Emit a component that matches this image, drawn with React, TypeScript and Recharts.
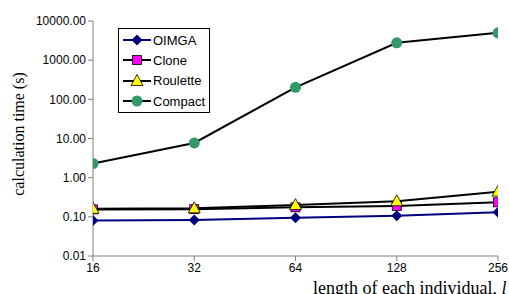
import { LineChart, Line, XAxis, YAxis } from "recharts";

const lengths = [16, 32, 64, 128, 256];
const oimga = [0.081, 0.083, 0.095, 0.107, 0.13];
const clone = [0.155, 0.157, 0.175, 0.19, 0.235];
const roulette = [0.16, 0.165, 0.2, 0.25, 0.44];
const compact = [2.3, 7.7, 203, 2770, 5000];
const yTicks = [0.01, 0.1, 1, 10, 100, 1000, 10000];

const data = lengths.map((l, i) => ({
  l,
  OIMGA: oimga[i],
  Clone: clone[i],
  Roulette: roulette[i],
  Compact: compact[i],
}));

const sans = "'Liberation Sans', Arial, sans-serif";
const serif = "'Liberation Serif', 'Times New Roman', serif";

const Diamond = ({ cx, cy }: any) => (
  <path d={`M${cx},${cy - 5.5}L${cx + 5.5},${cy}L${cx},${cy + 5.5}L${cx - 5.5},${cy}Z`} fill="#000080" />
);
const Square = ({ cx, cy }: any) => (
  <rect x={cx - 4.5} y={cy - 4.5} width={9} height={9} fill="#ff00ff" stroke="#000" strokeWidth={0.8} />
);
const Triangle = ({ cx, cy }: any) => (
  <path d={`M${cx},${cy - 6.5}L${cx + 6},${cy + 4.5}L${cx - 6},${cy + 4.5}Z`} fill="#ffff00" stroke="#000" strokeWidth={0.8} />
);
const Circle = ({ cx, cy }: any) => <circle cx={cx} cy={cy} r={5.5} fill="#339966" />;

const series = [
  { key: "OIMGA", color: "#000080", Mark: Diamond },
  { key: "Clone", color: "#000", Mark: Square },
  { key: "Roulette", color: "#000", Mark: Triangle },
  { key: "Compact", color: "#000", Mark: Circle },
];

// legend drawn over the plot, like the Excel box
const LegendBox = () => (
  <div
    style={{
      position: "absolute",
      left: 118,
      top: 28,
      width: 90,
      height: 81,
      border: "1px solid #000",
      background: "#fff",
      padding: "1px 0",
      fontFamily: sans,
      fontSize: 13,
    }}
  >
    {series.map((s) => (
      <div key={s.key} style={{ display: "flex", alignItems: "center", height: 20.3 }}>
        <svg width={32} height={14}>
          <line x1={4} x2={32} y1={7} y2={7} stroke={s.color} strokeWidth={2} />
          <s.Mark cx={18} cy={7} />
        </svg>
        <span style={{ marginLeft: 2 }}>{s.key}</span>
      </div>
    ))}
  </div>
);

const XLabel = () => (
  <text x={313} y={294} fontFamily={serif} fontSize={18} fill="#000">
    length of each individual, <tspan fontStyle="italic">l</tspan>
  </text>
);

const YLabel = () => (
  <text
    x={24}
    y={134}
    transform="rotate(-90 24 134)"
    textAnchor="middle"
    fontFamily={serif}
    fontSize={16}
    fill="#000"
  >
    calculation time (s)
  </text>
);

export default function App() {
  return (
    <div style={{ position: "absolute", left: 0, top: 0, width: 509, height: 294, background: "#fff" }}>
      <LineChart width={509} height={294} data={data} margin={{ top: 21, right: 11, bottom: 18, left: 8 }}>
        <XAxis
          dataKey="l"
          type="number"
          scale="log"
          domain={[16, 256]}
          ticks={lengths}
          allowDataOverflow
          stroke="#808080"
          tickSize={5}
          tick={{ fill: "#000", fontFamily: sans, fontSize: 12 }}
          height={20}
          label={<XLabel />}
        />
        <YAxis
          type="number"
          scale="log"
          domain={[0.01, 10000]}
          ticks={yTicks}
          allowDataOverflow
          width={85}
          stroke="#808080"
          tickSize={5}
          tickFormatter={(v: number) => v.toFixed(2)}
          tick={{ fill: "#000", fontFamily: sans, fontSize: 12 }}
          label={<YLabel />}
        />
        {series.map((s) => (
          <Line
            key={s.key}
            dataKey={s.key}
            type="linear"
            stroke={s.color}
            strokeWidth={2}
            dot={(p: any) => <s.Mark key={`${s.key}-${p.index}`} cx={p.cx} cy={p.cy} />}
            activeDot={false}
            isAnimationActive={false}
          />
        ))}
      </LineChart>
      <LegendBox />
    </div>
  );
}
